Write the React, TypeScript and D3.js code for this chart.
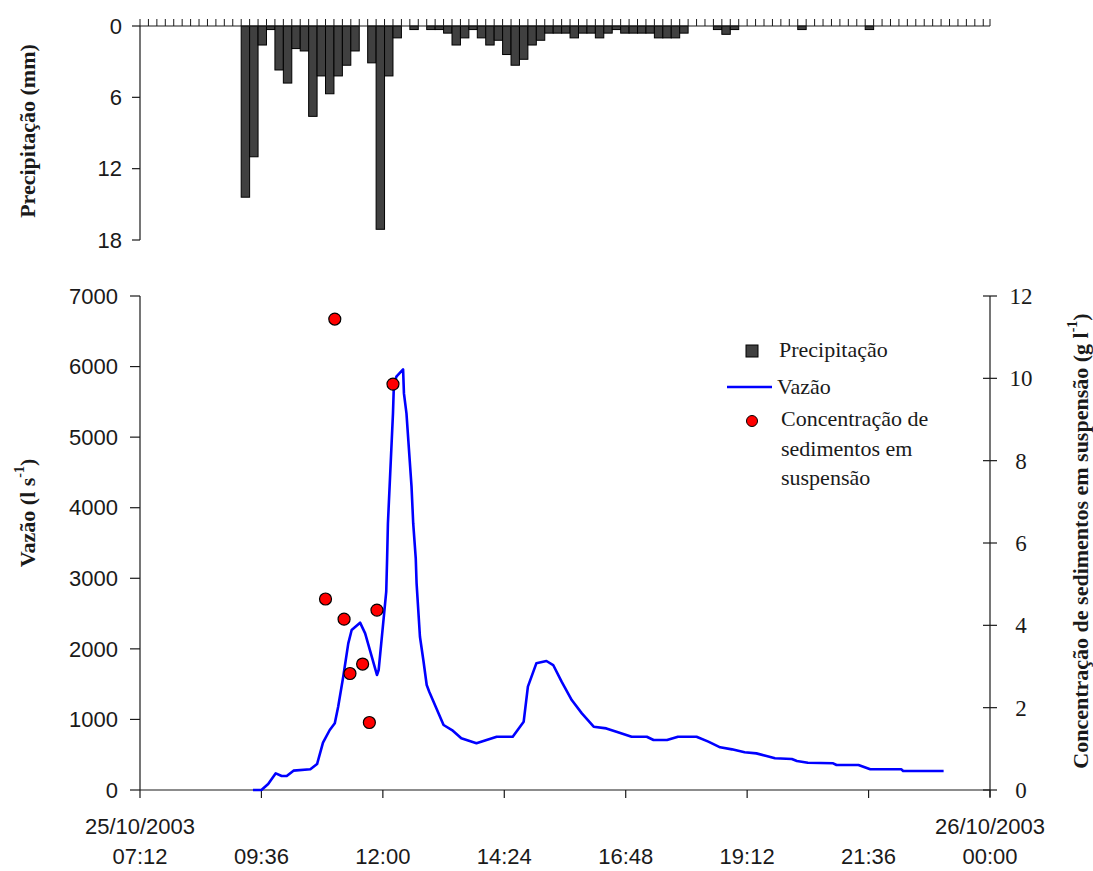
import React from 'react';
import * as d3 from 'd3';

// 10-minute rainfall (mm), starting at 09:12
const precipStart = '09:12';
const precipValues = [
  14.4, 11.0, 1.6, 0.3, 3.7, 4.8, 1.9, 2.1, 7.6, 4.2, 5.7, 4.2, 3.3, 2.1, 0, 3.1, 17.1, 4.2, 1.0, 0,
  0.3, 0, 0.3, 0.3, 0.6, 1.6, 1.0, 0.3, 1.0, 1.6, 1.2, 2.4, 3.3, 2.8, 1.6, 1.2, 0.6, 0.6, 0.6, 1.0,
  0.6, 0.6, 1.0, 0.6, 0.3, 0.6, 0.6, 0.6, 0.6, 1.0, 1.0, 1.0, 0.6, 0, 0, 0, 0.3, 0.7, 0.3, 0,
  0, 0, 0, 0, 0, 0, 0.3, 0, 0, 0, 0, 0, 0, 0, 0.3,
];

// discharge (l s-1)
const flowTimes = [
  '09:26', '09:36', '09:44', '09:53', '10:00', '10:06', '10:14', '10:34', '10:42', '10:49',
  '10:57', '11:03', '11:07', '11:13', '11:19', '11:23', '11:33', '11:39', '11:53', '11:55',
  '12:00', '12:04', '12:05', '12:06', '12:08', '12:10', '12:12', '12:13', '12:16', '12:24',
  '12:25', '12:28', '12:31', '12:34', '12:36', '12:39', '12:40', '12:44', '12:48', '12:52',
  '12:55', '13:12', '13:22', '13:33', '13:51', '14:15', '14:34', '14:47', '14:52', '15:02',
  '15:14', '15:22', '15:32', '15:44', '15:56', '16:10', '16:25', '16:37', '16:55', '17:13',
  '17:21', '17:37', '17:50', '18:12', '18:26', '18:40', '18:54', '19:09', '19:23', '19:35',
  '19:45', '20:05', '20:11', '20:24', '20:54', '20:58', '21:24', '21:38', '22:15', '22:17', '23:05',
];
const flowValues = [
  0, 0, 85, 236, 198, 198, 274, 293, 368, 670,
  850, 945, 1180, 1605, 2078, 2267, 2371, 2220, 1630, 1700,
  2314, 2810, 3259, 3777, 4298, 4817, 5337, 5714, 5856, 5960,
  5620, 5337, 4817, 4298, 3777, 3283, 2928, 2172, 1842, 1488,
  1393, 921, 850, 733, 662, 755, 755, 968, 1464, 1795,
  1828, 1771, 1535, 1275, 1086, 897, 873, 826, 755, 755,
  708, 708, 755, 755, 685, 605, 576, 534, 519, 482,
  449, 439, 411, 387, 378, 354, 354, 293, 293, 269, 269,
];

// suspended sediment concentration (g l-1)
const sedTimes = ['10:52', '11:03', '11:14', '11:21', '11:36', '11:44', '11:53', '12:12'];
const sedValues = [4.64, 11.44, 4.15, 2.83, 3.06, 1.64, 4.37, 9.86];

const precipTicks = [0, 6, 12, 18];
const flowTicks = [0, 1000, 2000, 3000, 4000, 5000, 6000, 7000];
const sedTicks = [0, 2, 4, 6, 8, 10, 12];

const parse = d3.timeParse('%d/%m/%Y %H:%M');
const day = (hm: string) => parse('25/10/2003 ' + hm) as Date;
const tStart = day('07:12');
const tEnd = parse('26/10/2003 00:00') as Date;

const sans = 'Liberation Sans, Arial, sans-serif';
const serif = 'Liberation Serif, Times New Roman, serif';
const ink = '#1a1a1a';

export default function App() {
  const width = 1093;
  const height = 871;

  const x = d3.scaleTime().domain([tStart, tEnd]).range([140, 990]);
  const yP = d3.scaleLinear().domain([0, 18]).range([26, 240]);
  const yQ = d3.scaleLinear().domain([0, 7000]).range([790, 296]);
  const yC = d3.scaleLinear().domain([0, 12]).range([790, 296]);

  const bars = precipValues
    .map((v, i) => {
      const t0 = d3.timeMinute.offset(day(precipStart), i * 10);
      const t1 = d3.timeMinute.offset(t0, 10);
      return { x0: x(t0), x1: x(t1), v };
    })
    .filter((d) => d.v > 0);

  const binTicks = d3.range(0, 101).map((i) => x(d3.timeMinute.offset(tStart, i * 10)));
  binTicks.push(x(tEnd));

  const timeTicks = d3.range(0, 8).map((i) => d3.timeMinute.offset(tStart, i * 144));
  const fmtTime = d3.timeFormat('%H:%M');
  const fmtDate = d3.timeFormat('%d/%m/%Y');

  const flow = flowTimes.map((t, i) => ({ t: day(t), v: flowValues[i] }));
  const line = d3
    .line<{ t: Date; v: number }>()
    .x((d) => x(d.t))
    .y((d) => yQ(d.v));

  const sed = sedTimes.map((t, i) => ({ t: day(t), v: sedValues[i] }));

  return (
    <svg width={width} height={height} style={{ position: 'absolute', left: 0, top: 0, background: '#fff' }}>
      {/* precipitation panel */}
      {bars.map((d, i) => (
        <rect
          key={i}
          x={d.x0}
          y={yP(0)}
          width={d.x1 - d.x0}
          height={yP(d.v) - yP(0)}
          fill="#404040"
          stroke="#000"
          strokeWidth={1}
        />
      ))}
      <line x1={140} x2={990} y1={yP(0)} y2={yP(0)} stroke={ink} strokeWidth={1.2} />
      {binTicks.map((bx, i) => (
        <line key={i} x1={bx} x2={bx} y1={yP(0)} y2={yP(0) - 7} stroke={ink} strokeWidth={1} />
      ))}
      <line x1={140} x2={140} y1={yP(0)} y2={yP(18)} stroke={ink} strokeWidth={1.2} />
      {precipTicks.map((t) => (
        <g key={t}>
          <line x1={132} x2={140} y1={yP(t)} y2={yP(t)} stroke={ink} strokeWidth={1.2} />
          <text x={122} y={yP(t)} dy="0.35em" textAnchor="end" fontFamily={sans} fontSize={22} fill={ink}>
            {t}
          </text>
        </g>
      ))}
      <text
        transform={`translate(27,131) rotate(-90)`}
        textAnchor="middle"
        dominantBaseline="central"
        fontFamily={serif}
        fontWeight="bold"
        fontSize={22}
        fill={ink}
      >
        Precipitação (mm)
      </text>

      {/* flow / sediment panel */}
      <line x1={140} x2={140} y1={296} y2={790} stroke={ink} strokeWidth={1.2} />
      <line x1={990} x2={990} y1={296} y2={797} stroke={ink} strokeWidth={1.2} />
      <line x1={140} x2={990} y1={790} y2={790} stroke={ink} strokeWidth={1.2} />
      {flowTicks.map((t) => (
        <g key={t}>
          <line x1={130} x2={140} y1={yQ(t)} y2={yQ(t)} stroke={ink} strokeWidth={1.2} />
          <text x={118} y={yQ(t)} dy="0.35em" textAnchor="end" fontFamily={sans} fontSize={22} fill={ink}>
            {t}
          </text>
        </g>
      ))}
      {sedTicks.map((t) => (
        <g key={t}>
          <line x1={983} x2={997} y1={yC(t)} y2={yC(t)} stroke={ink} strokeWidth={1.2} />
          <text x={1021} y={yC(t)} dy="0.35em" textAnchor="middle" fontFamily={serif} fontSize={23} fill={ink}>
            {t}
          </text>
        </g>
      ))}
      {timeTicks.map((t, i) => (
        <g key={i}>
          <line x1={x(t)} x2={x(t)} y1={790} y2={798} stroke={ink} strokeWidth={1.2} />
          {(i === 0 || i === timeTicks.length - 1) && (
            <text x={x(t)} y={834} textAnchor="middle" fontFamily={sans} fontSize={22} fill={ink}>
              {fmtDate(t)}
            </text>
          )}
          <text x={x(t)} y={864} textAnchor="middle" fontFamily={sans} fontSize={22} fill={ink}>
            {fmtTime(t)}
          </text>
        </g>
      ))}

      <path d={line(flow) || ''} fill="none" stroke="#0000ff" strokeWidth={2.6} strokeLinejoin="round" />
      {sed.map((d, i) => (
        <circle key={i} cx={x(d.t)} cy={yC(d.v)} r={6} fill="#ff0000" stroke="#000" strokeWidth={1.2} />
      ))}

      <text
        transform={`translate(27,513) rotate(-90)`}
        textAnchor="middle"
        dominantBaseline="central"
        fontFamily={serif}
        fontWeight="bold"
        fontSize={22}
        fill={ink}
      >
        Vazão (l s
        <tspan dy={-8} fontSize={14}>-1</tspan>
        <tspan dy={8}>)</tspan>
      </text>
      <text
        transform={`translate(1080,541) rotate(-90)`}
        textAnchor="middle"
        dominantBaseline="central"
        fontFamily={serif}
        fontWeight="bold"
        fontSize={22}
        fill={ink}
      >
        Concentração de sedimentos em suspensão (g l
        <tspan dy={-8} fontSize={14}>-1</tspan>
        <tspan dy={8}>)</tspan>
      </text>

      {/* legend */}
      <g fontFamily={serif} fontSize={22} fill={ink}>
        <rect x={746} y={345} width={12} height={12} fill="#404040" stroke="#000" strokeWidth={1} />
        <text x={779} y={357}>Precipitação</text>
        <line x1={727} x2={772} y1={387} y2={387} stroke="#0000ff" strokeWidth={2.6} />
        <text x={777} y={394}>Vazão</text>
        <circle cx={752} cy={421} r={5.5} fill="#ff0000" stroke="#000" strokeWidth={1} />
        <text x={781} y={426}>Concentração de</text>
        <text x={781} y={456}>sedimentos em</text>
        <text x={781} y={485}>suspensão</text>
      </g>
    </svg>
  );
}
